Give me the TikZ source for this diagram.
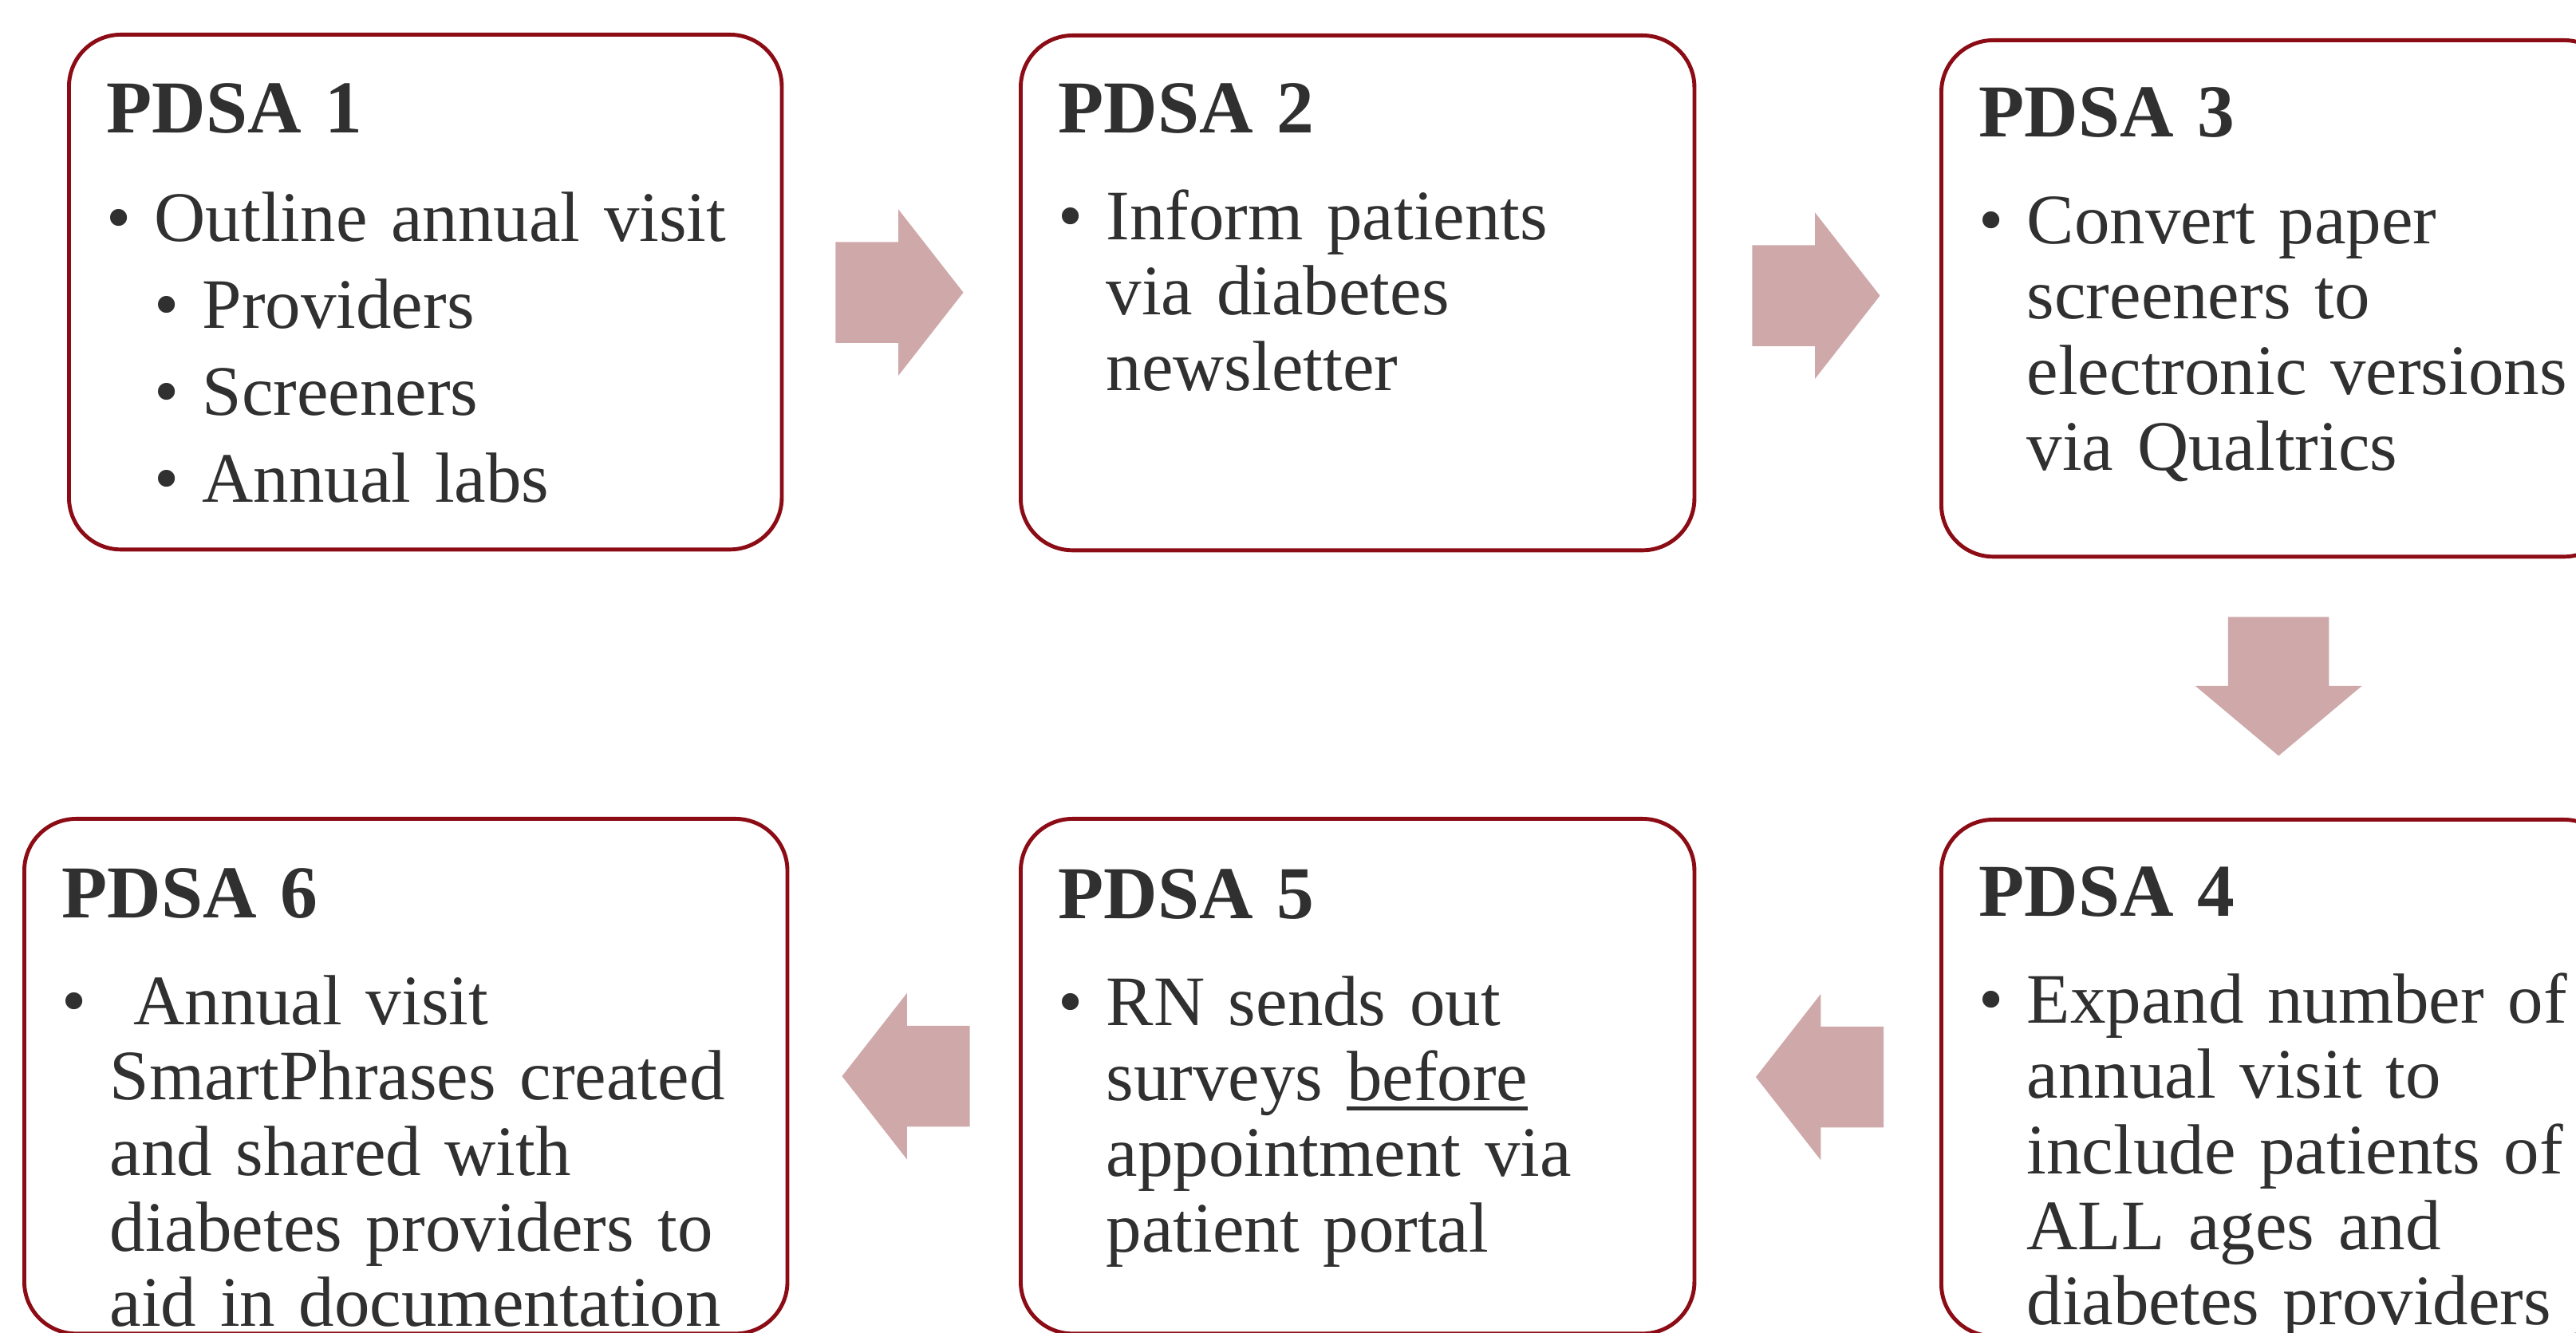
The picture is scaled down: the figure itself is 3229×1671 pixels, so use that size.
\documentclass[tikz,border=0pt]{standalone}
\usepackage{fontspec}
\setmainfont{Liberation Serif}
\usetikzlibrary{positioning,calc,shapes.arrows}

\definecolor{pdsaRed}{RGB}{140,12,22}
\definecolor{pdsaPink}{RGB}{207,169,170}
\definecolor{pdsaInk}{RGB}{48,48,48}

\newcommand{\pdsaBody}{\fontsize{25.3pt}{26.9pt}\selectfont}
\newcommand{\pdsaHead}{\fontsize{26.6pt}{26.9pt}\selectfont\bfseries}
\newcommand{\pdsaBul}{\makebox[0.6cm][l]{\textbullet}}
\newcommand{\pdsaInd}{\hspace*{0.6cm}}
\newcommand{\pdsaUnder}[1]{\setbox0=\hbox{#1}\rlap{\rule[-3.4pt]{\wd0}{1.3pt}}\box0}

\tikzset{
  pbox/.style={draw=pdsaRed, line width=1.4pt, rounded corners=0.65cm,
               anchor=north west, inner sep=0pt, minimum height=6.45cm},
  ptxt/.style={anchor=base west, text width=9cm, align=left, inner sep=0pt,
               text=pdsaInk, font=\pdsaBody},
  pflow/.style={single arrow, fill=pdsaPink, draw=none, anchor=tail,
                inner xsep=0pt, inner ysep=0.625cm, minimum height=1.6cm,
                single arrow head extend=0.41cm, single arrow tip angle=104,
                single arrow head indent=0pt},
}

\begin{document}
\begin{tikzpicture}[x=0.01cm, y=-0.01cm]
  \useasboundingbox (0,0) rectangle (3229,1671);
  \clip (0,0) rectangle (3229,1671);

  % top row
  \node[pbox, minimum width=8.93cm] (p1) at (84,41) {};
  \node[pbox, minimum width=8.44cm] (p2) at (1277,42) {};
  \node[pbox, minimum width=8.45cm, minimum height=6.47cm] (p3) at (2431,48) {};
  % bottom row
  \node[pbox, minimum width=8.45cm, minimum height=6.47cm] (p4) at (2431,1025) {};
  \node[pbox, minimum width=8.44cm] (p5) at (1277,1024) {};
  \node[pbox, minimum width=9.56cm] (p6) at (28,1024) {};

  \node[ptxt] (t1) at ([shift={(49,126)}]p1.north west)
    {{\pdsaHead PDSA 1}\\[11.5pt]
     \pdsaBul Outline annual visit\\[4.1pt]
     \pdsaInd\pdsaBul Providers\\[4.1pt]
     \pdsaInd\pdsaBul Screeners\\[4.1pt]
     \pdsaInd\pdsaBul Annual labs};
  \node[ptxt] (t2) at ([shift={(49,125)}]p2.north west)
    {{\pdsaHead PDSA 2}\\[11pt]
     \pdsaBul Inform patients\\
     \pdsaInd via diabetes\\
     \pdsaInd newsletter};
  \node[ptxt] (t3) at ([shift={(49,124)}]p3.north west)
    {{\pdsaHead PDSA 3}\\[11pt]
     \pdsaBul Convert paper\\
     \pdsaInd screeners to\\
     \pdsaInd electronic versions\\
     \pdsaInd via Qualtrics};
  \node[ptxt] (t4) at ([shift={(49,124)}]p4.north west)
    {{\pdsaHead PDSA 4}\\[11pt]
     \pdsaBul Expand number of\\
     \pdsaInd annual visit to\\
     \pdsaInd include patients of\\
     \pdsaInd ALL ages and\\
     \pdsaInd diabetes providers};
  \node[ptxt] (t5) at ([shift={(49,128)}]p5.north west)
    {{\pdsaHead PDSA 5}\\[11pt]
     \pdsaBul RN sends out\\
     \pdsaInd surveys \pdsaUnder{before}\\
     \pdsaInd appointment via\\
     \pdsaInd patient portal};
  \node[ptxt] (t6) at ([shift={(49,127)}]p6.north west)
    {{\pdsaHead PDSA 6}\\[11pt]
     \pdsaBul\ Annual visit\\
     \pdsaInd SmartPhrases created\\
     \pdsaInd and shared with\\
     \pdsaInd diabetes providers to\\
     \pdsaInd aid in documentation};

  % block arrows between the steps
  \node[pflow] (a12) at ($(p1.east)!0.5!(p2.west)+(-83,0)$) {};
  \node[pflow] (a23) at ($(p2.east)!0.5!(p3.west)+(-83,0)$) {};
  \node[pflow, rotate=-90, minimum height=1.74cm, single arrow tip angle=100]
    (a34) at ($(p3.south)!0.5!(p4.north)+(0,-90)$) {};
  \node[pflow, rotate=180] (a45) at ($(p4.west)!0.5!(p5.east)+(83,0)$) {};
  \node[pflow, rotate=180] (a56) at ($(p5.west)!0.5!(p6.east)+(83,0)$) {};
\end{tikzpicture}
\end{document}
